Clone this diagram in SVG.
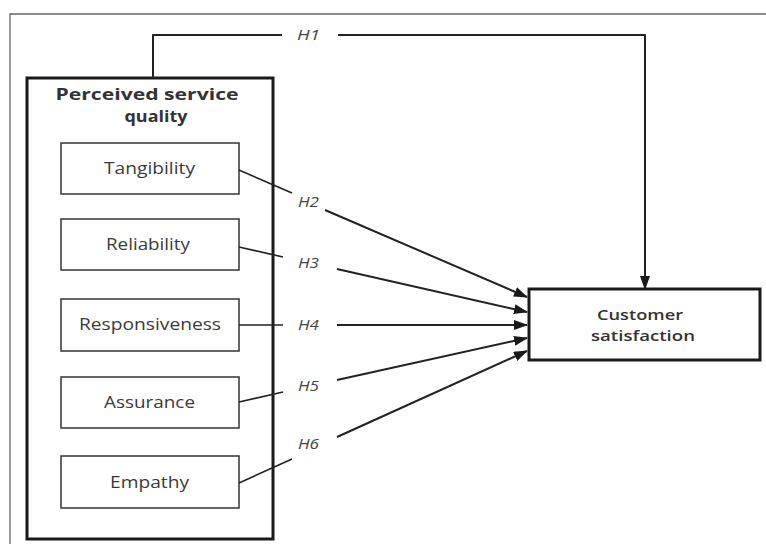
<svg xmlns="http://www.w3.org/2000/svg" width="766" height="544" viewBox="0 0 766 544">
<style>
.frame{fill:none;stroke:#666;stroke-width:1.3}
.big{fill:#fff;stroke:#1a1a1a;stroke-width:3}
.inner{fill:#fff;stroke:#333;stroke-width:1.5}
.t{font-family:"Open Sans","Noto Sans",sans-serif;font-size:15.5px;fill:#3a3a3a;text-anchor:middle}
.tb{font-family:"Open Sans","Noto Sans",sans-serif;font-size:16px;font-weight:bold;fill:#333;text-anchor:middle}
.tc{font-family:"Open Sans","Noto Sans",sans-serif;font-size:15px;font-weight:600;fill:#333;text-anchor:middle}
.h{font-family:"Open Sans","Noto Sans",sans-serif;font-size:15px;font-style:italic;fill:#444;text-anchor:middle}
.c{fill:none;stroke:#222;stroke-width:2;stroke-linejoin:round}
.s{fill:none;stroke:#222;stroke-width:1.6}
</style>
<defs>
<marker id="ah" markerWidth="14" markerHeight="10" refX="13" refY="5" orient="auto" markerUnits="userSpaceOnUse">
<path d="M0,0 L14,5 L0,10 Z" fill="#1a1a1a"/>
</marker>
</defs>
<path class="frame" d="M10,544 L10,14 L766,14"/>
<g id="perceived">
<rect class="big" x="27" y="78" width="246" height="461"/>
<text class="tb" x="147" y="100" textLength="183" lengthAdjust="spacingAndGlyphs">Perceived service</text>
<text class="tb" x="156" y="122" textLength="63" lengthAdjust="spacingAndGlyphs">quality</text>
</g>
<g id="tangibility"><rect class="inner" x="61" y="143" width="178" height="51"/><text class="t" x="149.5" y="174" textLength="91" lengthAdjust="spacingAndGlyphs">Tangibility</text></g>
<g id="reliability"><rect class="inner" x="61" y="219" width="178" height="51"/><text class="t" x="148" y="250" textLength="84" lengthAdjust="spacingAndGlyphs">Reliability</text></g>
<g id="responsiveness"><rect class="inner" x="61" y="299" width="178" height="52"/><text class="t" x="150" y="330" textLength="142" lengthAdjust="spacingAndGlyphs">Responsiveness</text></g>
<g id="assurance"><rect class="inner" x="61" y="377" width="178" height="51"/><text class="t" x="149.5" y="408" textLength="91" lengthAdjust="spacingAndGlyphs">Assurance</text></g>
<g id="empathy"><rect class="inner" x="61" y="456" width="178" height="52"/><text class="t" x="149.5" y="488" textLength="79" lengthAdjust="spacingAndGlyphs">Empathy</text></g>
<g id="customer">
<rect class="big" x="529" y="289" width="231" height="71"/>
<text class="tc" x="640" y="320" textLength="86" lengthAdjust="spacingAndGlyphs">Customer</text>
<text class="tc" x="643" y="341" textLength="104" lengthAdjust="spacingAndGlyphs">satisfaction</text>
</g>
<g id="connectors">
<path class="c" d="M153,78 L153,35 L282,35"/>
<path class="c" d="M338,35 L645,35 L645,289" marker-end="url(#ah)"/>
<text class="h" x="308.5" y="40" textLength="23" lengthAdjust="spacingAndGlyphs">H1</text>
<path class="s" d="M239,170 L292,193"/>
<path class="c" d="M325,210 L527,297" marker-end="url(#ah)"/>
<text class="h" x="308.5" y="207" textLength="21" lengthAdjust="spacingAndGlyphs">H2</text>
<path class="s" d="M239,247 L283,257"/>
<path class="c" d="M337,269 L527,312" marker-end="url(#ah)"/>
<text class="h" x="308.5" y="268" textLength="21" lengthAdjust="spacingAndGlyphs">H3</text>
<path class="s" d="M239,325 L283,325"/>
<path class="c" d="M337,325 L527,325" marker-end="url(#ah)"/>
<text class="h" x="308.5" y="330" textLength="21" lengthAdjust="spacingAndGlyphs">H4</text>
<path class="s" d="M239,402 L283,392"/>
<path class="c" d="M337,380 L527,338" marker-end="url(#ah)"/>
<text class="h" x="308.5" y="391" textLength="21" lengthAdjust="spacingAndGlyphs">H5</text>
<path class="s" d="M239,483 L292,459"/>
<path class="c" d="M337,437 L527,351" marker-end="url(#ah)"/>
<text class="h" x="308.5" y="449" textLength="21" lengthAdjust="spacingAndGlyphs">H6</text>
</g>
</svg>
